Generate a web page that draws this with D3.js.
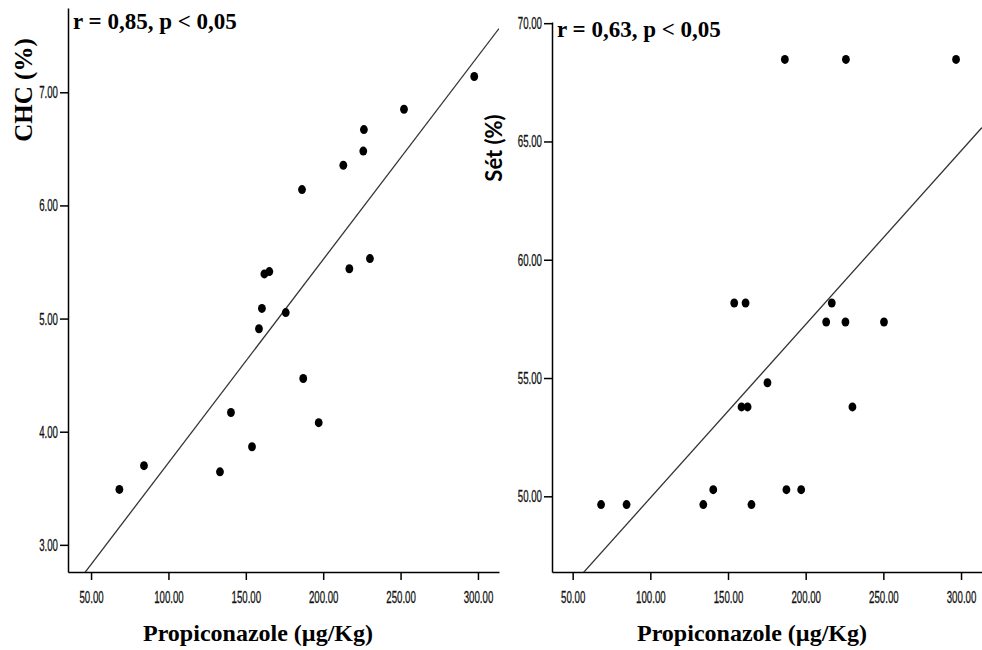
<!DOCTYPE html>
<html>
<head>
<meta charset="utf-8">
<script src="https://cdn.jsdelivr.net/npm/d3@7"></script>
<style>
  body { margin: 0; background: #fff; }
  .tick text { font-family: "Liberation Sans", Arial, sans-serif; font-size: 17px; fill: #111; stroke: #111; stroke-width: 0.3px; }
  .domain, .tick line { stroke: #000; stroke-width: 1.5px; }
</style>
</head>
<body>
<div id="chart"></div>
<script>
// values
const xTicks = [50, 100, 150, 200, 250, 300];
const xTickLabels = ["50.00", "100.00", "150.00", "200.00", "250.00", "300.00"];

const chcX = [297.6, 252.2, 226.3, 225.9, 213.0, 186.3, 162.0, 165.2, 216.9, 230.2,
              160.4, 175.8, 158.5, 187.1, 140.4, 197.1, 154.0, 133.3, 84.2, 68.3];
const chcY = [7.14, 6.85, 6.67, 6.48, 6.355, 6.14, 5.395, 5.415, 5.44, 5.53,
              5.09, 5.053, 4.91, 4.47, 4.17, 4.08, 3.867, 3.645, 3.70, 3.49];
const chcTicks = [3, 4, 5, 6, 7];
const chcTickLabels = ["3.00", "4.00", "5.00", "6.00", "7.00"];
const chcFit = [0.01797, 1.928]; // slope, intercept

const setX = [186.6, 225.9, 296.8, 154.0, 161.3, 216.8, 213.2, 225.6, 250.4, 230.1,
              175.4, 158.7, 162.6, 68.3, 84.7, 134.1, 165.1, 140.5, 187.6, 197.1];
const setY = [68.47, 68.47, 68.47, 58.17, 58.17, 58.17, 57.37, 57.37, 57.37, 53.78,
              54.8, 53.78, 53.78, 49.65, 49.65, 49.65, 49.65, 50.28, 50.28, 50.28];
const setTicks = [50, 55, 60, 65, 70];
const setTickLabels = ["50.00", "55.00", "60.00", "65.00", "70.00"];
const setFit = [0.07333, 42.6];

const svg = d3.select("#chart")
  .append("svg")
  .attr("width", 982)
  .attr("height", 650);

// squeeze tick labels like the narrow font of the original
const squeezeK = 0.57;
function squeeze(sel) {
  sel.selectAll(".tick text")
    .attr("x", function () { return (+this.getAttribute("x") || 0) / squeezeK; })
    .attr("transform", "scale(" + squeezeK + ",1)");
}

// 绘制一个面板
function drawPanel(p) {
  const x = d3.scaleLinear().domain(p.xDomain).range([p.left, p.right]);
  const y = d3.scaleLinear().domain(p.yDomain).range([p.bottom, p.top]);

  const g = svg.append("g");

  g.append("clipPath").attr("id", p.id)
    .append("rect")
    .attr("x", p.left).attr("y", p.top)
    .attr("width", p.right - p.left).attr("height", p.bottom - p.top);

  // x axis
  g.append("g")
    .attr("transform", "translate(0," + p.bottom + ")")
    .call(d3.axisBottom(x).tickValues(xTicks).tickSize(8).tickSizeOuter(0).tickPadding(11)
      .tickFormat(function (d, i) { return xTickLabels[i]; }))
    .call(squeeze);

  // y axis
  g.append("g")
    .attr("transform", "translate(" + p.left + ",0)")
    .call(d3.axisLeft(y).tickValues(p.yTicks).tickSize(8).tickSizeOuter(0).tickPadding(2)
      .tickFormat(function (d, i) { return p.yTickLabels[i]; }))
    .call(squeeze);

  // regression line
  const x0 = p.xDomain[0], x1 = p.xDomain[1];
  g.append("line")
    .attr("clip-path", "url(#" + p.id + ")")
    .attr("x1", x(x0)).attr("y1", y(p.fit[0] * x0 + p.fit[1]))
    .attr("x2", x(x1)).attr("y2", y(p.fit[0] * x1 + p.fit[1]))
    .attr("stroke", "#333")
    .attr("stroke-width", 1.3);

  // points
  g.selectAll("ellipse")
    .data(p.xs)
    .enter()
    .append("ellipse")
    .attr("cx", function (d) { return x(d); })
    .attr("cy", function (d, i) { return y(p.ys[i]); })
    .attr("rx", 3.9)
    .attr("ry", 4.5)
    .attr("fill", "#000");

  // r / p text
  g.append("text")
    .attr("x", p.left + 5)
    .attr("y", p.top + p.statDy)
    .style("font-family", "'Liberation Serif', 'DejaVu Serif', serif")
    .style("font-weight", "bold")
    .style("font-size", "23px")
    .text(p.stat);

  // x label
  g.append("text")
    .attr("x", p.xLabelX)
    .attr("y", 641)
    .style("text-anchor", "middle")
    .style("font-family", "'Liberation Serif', 'DejaVu Serif', serif")
    .style("font-weight", "bold")
    .style("font-size", "24px")
    .text("Propiconazole (µg/Kg)");

  // y label
  g.append("text")
    .attr("transform", "translate(" + p.yLabelX + "," + p.yLabelY + ")rotate(-90)")
    .style("text-anchor", "middle")
    .style("font-family", p.yLabelFont)
    .style("font-weight", "bold")
    .style("font-size", p.yLabelSize)
    .text(p.yLabel);
}

drawPanel({
  id: "clipA", left: 68, right: 499, top: 8, bottom: 572,
  xDomain: [35.1, 313.6], yDomain: [2.76, 7.745],
  yTicks: chcTicks, yTickLabels: chcTickLabels,
  xs: chcX, ys: chcY, fit: chcFit,
  stat: "r = 0,85, p < 0,05", statDy: 21,
  xLabelX: 258, yLabel: "CHC (%)", yLabelX: 32, yLabelY: 90,
  yLabelFont: "'Liberation Serif', 'DejaVu Serif', serif", yLabelSize: "25px"
});

drawPanel({
  id: "clipB", left: 552, right: 982, top: 22, bottom: 572,
  xDomain: [36.7, 313.5], yDomain: [46.8, 70.05],
  yTicks: setTicks, yTickLabels: setTickLabels,
  xs: setX, ys: setY, fit: setFit,
  stat: "r = 0,63, p < 0,05", statDy: 15,
  xLabelX: 752, yLabel: "Sét (%)", yLabelX: 502, yLabelY: 148,
  yLabelFont: "Lato, 'Open Sans', sans-serif", yLabelSize: "22px"
});
</script>
</body>
</html>
